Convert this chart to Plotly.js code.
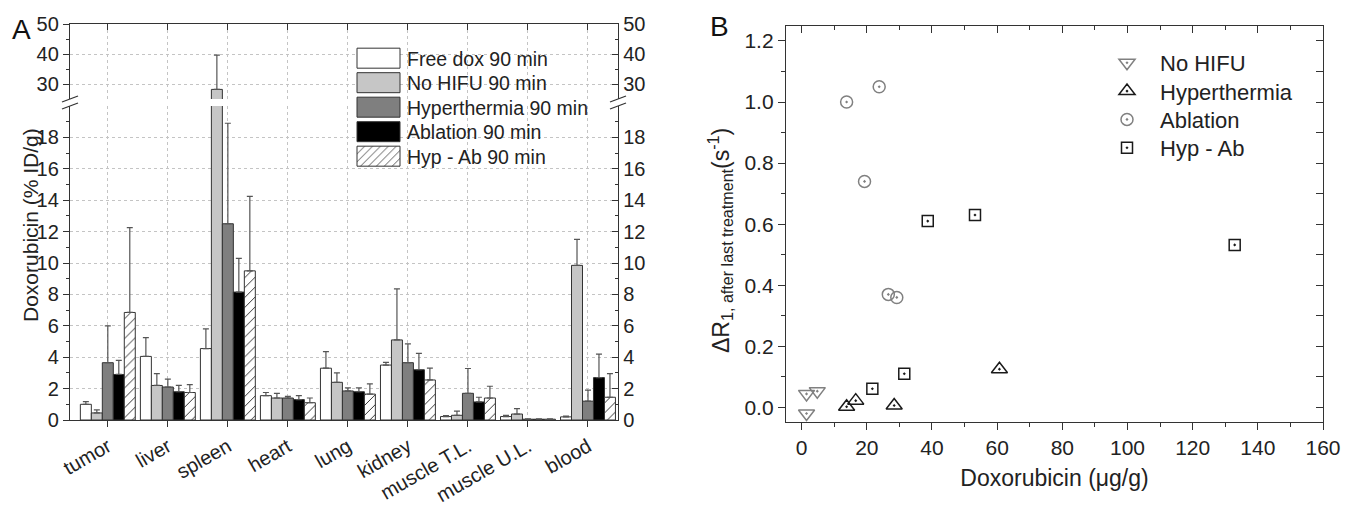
<!DOCTYPE html>
<html><head><meta charset="utf-8">
<script src="https://cdn.plot.ly/plotly-3.0.1.min.js"></script>
<style>html,body{margin:0;padding:0;background:#fff;}#plot{width:1345px;height:506px;}</style>
</head><body><div id="plot"></div>
<script>
// ---------- Panel A data ----------
const organs = ["tumor","liver","spleen","heart","lung","kidney","muscle T.L.","muscle U.L.","blood"];
const seriesNames = ["Free dox 90 min","No HIFU 90 min","Hyperthermia 90 min","Ablation 90 min","Hyp - Ab 90 min"];
const freeDox     = [1.0, 4.05, 4.55, 1.55, 3.3, 3.5, 0.22, 0.22, 0.2];
const freeDoxErr  = [0.17, 1.2, 1.25, 0.2, 1.05, 0.17, 0.06, 0.08, 0.05];
const noHifu      = [0.45, 2.2, 28.2, 1.4, 2.4, 5.1, 0.3, 0.38, 9.85];
const noHifuErr   = [0.2, 0.75, 11.4, 0.3, 0.6, 3.25, 0.27, 0.34, 1.65];
const hyper       = [3.65, 2.1, 12.5, 1.4, 1.85, 3.65, 1.7, 0.05, 1.2];
const hyperErr    = [2.35, 0.5, 6.4, 0.1, 0.2, 1.2, 1.58, 0.02, 0.7];
const ablation    = [2.9, 1.8, 8.15, 1.3, 1.8, 3.2, 1.15, 0.05, 2.7];
const ablationErr = [0.9, 0.4, 2.15, 0.25, 0.25, 1.05, 0.3, 0.02, 1.5];
const hypAb       = [6.85, 1.75, 9.5, 1.1, 1.65, 2.55, 1.4, 0.05, 1.45];
const hypAbErr    = [5.4, 0.5, 4.75, 0.3, 0.65, 0.75, 0.75, 0.02, 1.5];
const lowerTicks  = [0,2,4,6,8,10,12,14,16,18];
const lowerMinor  = [1,3,5,7,9,11,13,15,17,19];
const upperTicks  = [30,40,50];
const upperMinor  = [35,45];

// ---------- Panel B data ----------
const bNames  = ["No HIFU","Hyperthermia","Ablation","Hyp - Ab"];
const bNoHifuX = [1.5, 4.8, 1.5];
const bNoHifuY = [0.044, 0.053, -0.02];
const bHyperX  = [13.8, 16.6, 28.4, 60.7];
const bHyperY  = [0.002, 0.022, 0.006, 0.125];
const bAblX    = [13.8, 23.8, 19.3, 26.6, 29.2];
const bAblY    = [1.0, 1.05, 0.74, 0.37, 0.36];
const bHypAbX  = [38.7, 53.2, 132.9, 21.7, 31.5];
const bHypAbY  = [0.61, 0.63, 0.532, 0.061, 0.11];

// ---------- geometry helpers ----------
const W = 1345, H = 506;
const px = p => p / W;
const py = p => 1 - p / H;
const FONT = "Liberation Sans, Arial, sans-serif";
const TXT = "#222";
const AX = "#333";

const valsA = [freeDox, noHifu, hyper, ablation, hypAb];
const errsA = [freeDoxErr, noHifuErr, hyperErr, ablationErr, hypAbErr];
const fills = ["#ffffff", "#c6c6c6", "#7f7f7f", "#000000", "#ffffff"];

const traces = [];
valsA.forEach((v, i) => {
  const marker = {color: fills[i], line: {color: AX, width: 1}};
  if (i === 4) marker.pattern = {shape: "/", fgcolor: "#333", bgcolor: "#ffffff", size: 7, solidity: 0.14};
  const err = {type: "data", symmetric: false, array: errsA[i], arrayminus: errsA[i].map(() => 0),
               color: "#555", thickness: 1.2, width: 3};
  traces.push({type: "bar", x: organs, y: v, name: seriesNames[i], marker: marker, error_y: err,
               xaxis: "x", yaxis: "y", legend: "legend", hoverinfo: "x+y"});
  traces.push({type: "bar", x: organs, y: v, name: seriesNames[i], marker: marker, error_y: err,
               xaxis: "x2", yaxis: "y2", showlegend: false, hoverinfo: "x+y"});
});
// transparent copies so that the mirrored right-hand axes of panel A are drawn
traces.push({type: "scatter", mode: "markers", x: organs, y: hypAb, xaxis: "x", yaxis: "y3",
  marker: {opacity: 0}, showlegend: false, hoverinfo: "skip"});
traces.push({type: "scatter", mode: "markers", x: organs, y: noHifu, xaxis: "x2", yaxis: "y4",
  marker: {opacity: 0}, showlegend: false, hoverinfo: "skip"});

const bX = [bNoHifuX, bHyperX, bAblX, bHypAbX];
const bY = [bNoHifuY, bHyperY, bAblY, bHypAbY];
const bSym = ["triangle-down-open-dot", "triangle-up-open-dot", "circle-open-dot", "square-open-dot"];
const bCol = ["#808080", "#1a1a1a", "#808080", "#1a1a1a"];
const bSize = [14, 14, 12, 11];
bX.forEach((xs, i) => {
  traces.push({type: "scatter", mode: "markers", x: xs, y: bY[i], name: bNames[i],
    marker: {symbol: bSym[i], size: bSize[i], color: bCol[i], line: {color: bCol[i], width: 1.5}},
    xaxis: "x3", yaxis: "y5", legend: "legend2"});
});
// transparent copy so the top / right frame axes of panel B are drawn
traces.push({type: "scatter", mode: "markers", x: bHypAbX, y: bHypAbY, xaxis: "x4", yaxis: "y6",
  marker: {opacity: 0}, showlegend: false, hoverinfo: "skip"});

const domAx = [px(70), px(618)];
const domBx = [px(786), px(1323)];
const tfA = {family: FONT, size: 20, color: TXT};
const tfB = {family: FONT, size: 21, color: TXT};

const commonGrid = {showgrid: true, gridcolor: "#c4c4c4", griddash: "dot", gridwidth: 1, zeroline: false};

const layout = {
  width: W, height: H, margin: {l: 0, r: 0, t: 0, b: 0},
  paper_bgcolor: "#fff", plot_bgcolor: "rgba(0,0,0,0)",
  font: {family: FONT, color: TXT},
  barmode: "group", bargap: 0.085, bargroupgap: 0,
  showlegend: true,
  xaxis: Object.assign({}, commonGrid, {domain: domAx, anchor: "y", type: "category", range: [-0.63, 8.5],
    showline: true, linecolor: AX, linewidth: 1.2, ticks: "outside", ticklen: 6, tickcolor: AX,
    tickangle: -30, tickfont: {family: FONT, size: 20, color: TXT}}),
  xaxis2: Object.assign({}, commonGrid, {domain: domAx, anchor: "y2", side: "top", type: "category", range: [-0.63, 8.5],
    showline: true, linecolor: AX, linewidth: 1.2, ticks: "inside", ticklen: 6, tickcolor: AX,
    showticklabels: false}),
  yaxis: Object.assign({}, commonGrid, {domain: [py(420), py(106)], anchor: "x", range: [0, 20],
    tickmode: "array", tickvals: lowerTicks, showline: true, linecolor: AX, linewidth: 1.2,
    ticks: "outside", ticklen: 6, tickcolor: AX, tickfont: tfA,
    minor: {tickmode: "array", tickvals: lowerMinor, ticks: "outside", ticklen: 3, tickcolor: AX, showgrid: false}}),
  yaxis2: Object.assign({}, commonGrid, {domain: [py(99), py(24)], anchor: "x2", range: [25, 50],
    tickmode: "array", tickvals: upperTicks, showline: true, linecolor: AX, linewidth: 1.2,
    ticks: "outside", ticklen: 6, tickcolor: AX, tickfont: tfA,
    minor: {tickmode: "array", tickvals: upperMinor, ticks: "outside", ticklen: 3, tickcolor: AX, showgrid: false}}),
  yaxis3: {overlaying: "y", side: "right", anchor: "x", range: [0, 20], showgrid: false, zeroline: false,
    tickmode: "array", tickvals: lowerTicks, showline: true, linecolor: AX, linewidth: 1.2,
    ticks: "inside", ticklen: 6, tickcolor: AX, tickfont: tfA,
    minor: {tickmode: "array", tickvals: lowerMinor, ticks: "inside", ticklen: 3, tickcolor: AX}},
  yaxis4: {overlaying: "y2", side: "right", anchor: "x2", range: [25, 50], showgrid: false, zeroline: false,
    tickmode: "array", tickvals: upperTicks, showline: true, linecolor: AX, linewidth: 1.2,
    ticks: "inside", ticklen: 6, tickcolor: AX, tickfont: tfA,
    minor: {tickmode: "array", tickvals: upperMinor, ticks: "inside", ticklen: 3, tickcolor: AX}},

  xaxis3: {domain: domBx, anchor: "y5", range: [-4.8, 160], showgrid: false, zeroline: false,
    showline: true, linecolor: AX, linewidth: 1.2, dtick: 20, tick0: 0,
    ticks: "outside", ticklen: 7, tickcolor: AX, tickfont: tfB,
    minor: {dtick: 10, tick0: 0, ticks: "outside", ticklen: 4, tickcolor: AX},
    title: {text: "Doxorubicin (\u03bcg/g)", font: {family: FONT, size: 23, color: TXT}, standoff: 11}},
  xaxis4: {overlaying: "x3", side: "top", anchor: "y6", range: [-4.8, 160], showgrid: false, zeroline: false,
    showline: true, linecolor: AX, linewidth: 1.2, dtick: 20, tick0: 0, showticklabels: false,
    ticks: "inside", ticklen: 7, tickcolor: AX,
    minor: {dtick: 10, tick0: 0, ticks: "inside", ticklen: 4, tickcolor: AX}},
  yaxis5: {domain: [py(422), py(25.7)], anchor: "x3", range: [-0.048, 1.25], showgrid: false, zeroline: false,
    showline: true, linecolor: AX, linewidth: 1.2, dtick: 0.2, tick0: 0, tickformat: ".1f",
    ticks: "outside", ticklen: 7, tickcolor: AX, tickfont: tfB,
    minor: {dtick: 0.1, tick0: 0, ticks: "outside", ticklen: 4, tickcolor: AX}},
  yaxis6: {overlaying: "y5", side: "right", anchor: "x4", range: [-0.048, 1.25], showgrid: false, zeroline: false,
    showline: true, linecolor: AX, linewidth: 1.2, dtick: 0.1, tick0: 0, showticklabels: false,
    ticks: "inside", ticklen: 7, tickcolor: AX},

  legend: {x: px(350), y: py(39), xanchor: "left", yanchor: "top", bgcolor: "rgba(255,255,255,0)",
    borderwidth: 0, itemwidth: 47, font: {family: FONT, size: 19.5, color: TXT}, tracegroupgap: 0,
    itemclick: false, itemdoubleclick: false},
  legend2: {x: px(1094), y: py(42), xanchor: "left", yanchor: "top", bgcolor: "rgba(255,255,255,0)",
    borderwidth: 0, itemwidth: 56, font: {family: FONT, size: 22, color: TXT},
    itemclick: false, itemdoubleclick: false},

  annotations: [
    {text: "A", xref: "paper", yref: "paper", x: px(10), y: py(12), xanchor: "left", yanchor: "top",
     showarrow: false, font: {family: FONT, size: 28, color: "#111"}},
    {text: "B", xref: "paper", yref: "paper", x: px(708), y: py(9), xanchor: "left", yanchor: "top",
     showarrow: false, font: {family: FONT, size: 28, color: "#111"}},
    {text: "Doxorubicin (% ID/g)", xref: "paper", yref: "paper", x: px(30), y: py(225), textangle: -90,
     xanchor: "center", yanchor: "middle",
     showarrow: false, font: {family: FONT, size: 21, color: TXT}},
    {text: "\u0394R<sub>1, after last treatment</sub>(s<sup>-1</sup>)", xref: "paper", yref: "paper",
     x: px(720), y: py(240), textangle: -90, xanchor: "center", yanchor: "middle",
     showarrow: false, font: {family: FONT, size: 23, color: TXT}}
  ],
  shapes: []
};

// axis-break marks on both y axes of panel A
[70, 618].forEach(xp => {
  [99, 106].forEach(yp => {
    layout.shapes.push({type: "line", xref: "paper", yref: "paper",
      x0: px(xp - 8), y0: py(yp + 3), x1: px(xp + 8), y1: py(yp - 3),
      line: {color: AX, width: 1.3}});
  });
});

function respace(gd, cls, step) {
  const items = gd.querySelectorAll("g." + cls + " g.traces");
  let y0 = null;
  items.forEach((g, i) => {
    const m = /translate\(\s*([-\d.e]+)[\s,]+([-\d.e]+)\s*\)/.exec(g.getAttribute("transform") || "");
    if (!m) return;
    if (y0 === null) y0 = parseFloat(m[2]);
    g.setAttribute("transform", "translate(" + m[1] + "," + (y0 + i * step) + ")");
  });
}

Plotly.newPlot("plot", traces, layout, {displayModeBar: false, staticPlot: true}).then(gd => {
  // wide swatch boxes and tighter rows, as in the original legend of panel A
  gd.querySelectorAll("g.legend .legendpoints path").forEach(p => {
    p.setAttribute("d", "M21.5,10H-21.5V-10H21.5Z");
  });
  respace(gd, "legend", 24.5);
  respace(gd, "legend2", 28.3);
});
</script></body></html>
